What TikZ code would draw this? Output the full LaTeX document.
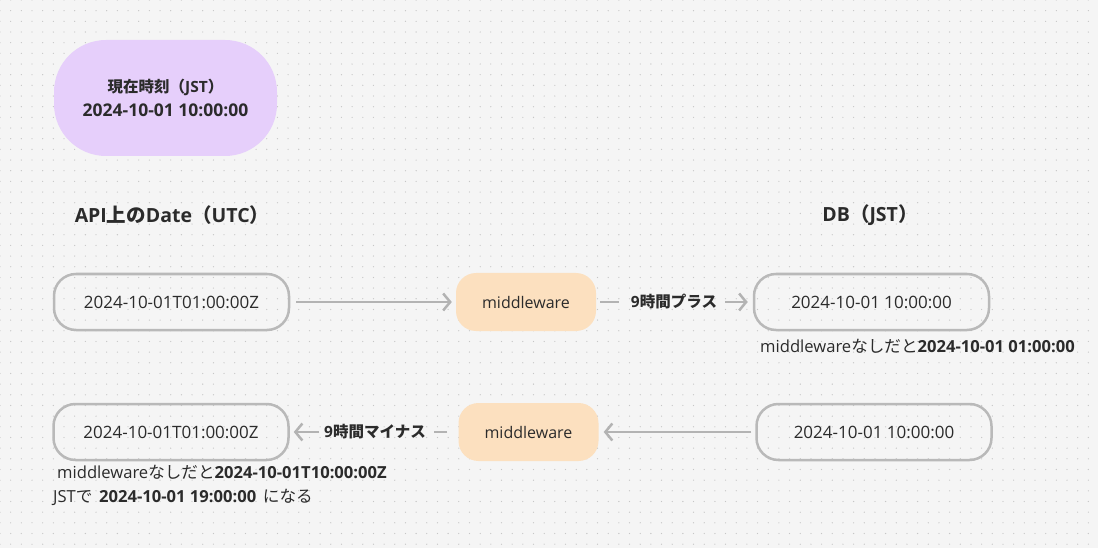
\documentclass[tikz,border=0pt]{standalone}
\usepackage{fontspec}
\setmainfont{Open Sans}
\newfontfamily\jp{Noto Sans CJK JP}
\usetikzlibrary{arrows.meta}
\definecolor{bgcol}{HTML}{F5F5F5}
\definecolor{dotcol}{HTML}{C6C6C6}
\definecolor{nowcol}{HTML}{E6CFFB}
\definecolor{mwcol}{HTML}{FCE0BF}
\definecolor{boxcol}{HTML}{B9B9B9}
\definecolor{arrowcol}{HTML}{B3B3B3}
\definecolor{inkcol}{HTML}{2B2B2B}
\tikzset{
  datebox/.style={draw=boxcol, line width=2.5pt, rounded corners=22pt,
    minimum width=235pt, minimum height=56pt, font=\fontsize{17}{19}\selectfont},
  mwbox/.style={fill=mwcol, rounded corners=20pt, minimum width=140pt,
    minimum height=58pt, font=\fontsize{16}{19}\selectfont},
  flow/.style={draw=arrowcol, line width=2.5pt,
    -{Straight Barb[length=7pt,width=17pt,line width=2.5pt]}},
  link/.style={draw=arrowcol, line width=2.5pt},
  headline/.style={font=\fontsize{19.5}{22}\selectfont\bfseries},
  shift label/.style={font=\fontsize{15.5}{19}\selectfont\bfseries},
  note/.style={anchor=west, font=\fontsize{16.6}{19}\selectfont},
}
\begin{document}
\begin{tikzpicture}[x=1pt, y=-1pt, every node/.style={text=inkcol, inner sep=0pt}]
  % background and dot grid
  \fill[bgcol] (0,0) rectangle (1098,548);
  \useasboundingbox (0,0) rectangle (1098,548);
  \foreach \i in {0,...,102} {
    \foreach \j in {0,...,51} {
      \fill[dotcol] (\i*10.67,\j*10.67) circle (0.65pt);
    }
  }

  % current time
  \node[fill=nowcol, rounded corners=52pt, minimum width=223pt, minimum height=116pt,
    align=center, font=\fontsize{15.5}{24}\selectfont\bfseries] (now) at (165.5,98)
    {{\jp 現在時刻（}JST{\jp ）}\\
     {\fontsize{17.5}{24}\selectfont 2024-10-01 10:00:00}};

  % column titles
  \node[headline] (apititle) at (172,215) {API{\jp 上の}Date{\jp （}UTC{\jp ）}};
  \node[headline] (dbtitle) at (870,215) {DB{\jp （}JST{\jp ）}};

  % request row
  \node[datebox] (api1) at (171.5,302) {2024-10-01T01:00:00Z};
  \node[mwbox] (mw1) at (526,302) {middleware};
  \node[datebox] (db1) at (871.5,302) {2024-10-01 10:00:00};
  \node[shift label] (plus) at (674,302) {9{\jp 時間プラス}};
  \draw[flow, shorten <=6pt, shorten >=4pt] (api1) -- (mw1);
  \draw[link, shorten <=4pt, shorten >=12pt] (mw1) -- (plus);
  \draw[flow, shorten <=8pt, shorten >=5pt] (plus) -- (db1);
  \node[note] (note1) at (760,346) {middleware{\jp なしだと}\textbf{2024-10-01 01:00:00}};

  % response row
  \node[datebox] (db2) at (874,432) {2024-10-01 10:00:00};
  \node[mwbox] (mw2) at (528.5,432) {middleware};
  \node[datebox] (api2) at (171,432) {2024-10-01T01:00:00Z};
  \node[shift label] (minus) at (375,432) {9{\jp 時間マイナス}};
  \draw[flow, shorten <=4pt, shorten >=5pt] (db2) -- (mw2);
  \draw[link, shorten <=11pt, shorten >=8pt] (mw2) -- (minus);
  \draw[flow, shorten <=5pt, shorten >=4pt] (minus) -- (api2);
  \node[note] (note2) at (57,472) {middleware{\jp なしだと}\textbf{2024-10-01T10:00:00Z}};
  \node[note] (note3) at (53,497) {JST{\jp で}\hspace{0.4em}\textbf{2024-10-01 19:00:00}\hspace{0.4em}{\jp になる}};
\end{tikzpicture}
\end{document}
